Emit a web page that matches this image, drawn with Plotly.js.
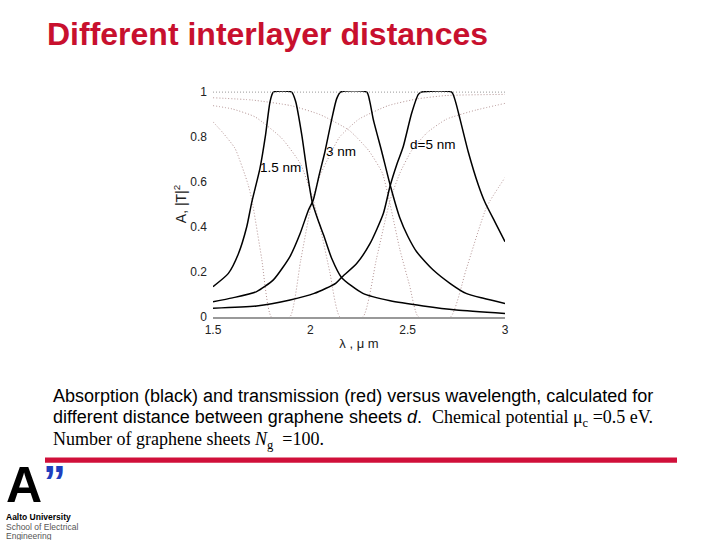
<!DOCTYPE html>
<html>
<head>
<meta charset="utf-8">
<script src="https://cdn.plot.ly/plotly-3.0.1.min.js"></script>
<style>
  html, body { margin: 0; padding: 0; background: #fff; }
  #chart { width: 720px; height: 540px; }
</style>
</head>
<body>
<div id="chart"></div>
<script>
// ---- Absorption (black) ----
const wlAbs15 = [1.5, 1.579, 1.63, 1.673, 1.699, 1.741, 1.77, 1.793, 1.81, 1.904, 1.925, 1.956, 1.981, 2.01, 2.04, 2.07, 2.11, 2.16, 2.27, 2.41, 2.58, 2.75, 3.0];
const abs15   = [0.135, 0.194, 0.28, 0.40, 0.51, 0.66, 0.81, 0.957, 1.0, 1.0, 0.957, 0.81, 0.66, 0.51, 0.43, 0.36, 0.26, 0.176, 0.105, 0.072, 0.049, 0.031, 0.016];

const wlAbs3 = [1.5, 1.6, 1.724, 1.81, 1.896, 1.947, 1.99, 2.015, 2.045, 2.075, 2.11, 2.135, 2.155, 2.29, 2.305, 2.323, 2.367, 2.41, 2.46, 2.5, 2.546, 2.63, 2.717, 2.8, 2.889, 3.0];
const abs3   = [0.068, 0.085, 0.113, 0.165, 0.27, 0.37, 0.475, 0.52, 0.63, 0.735, 0.88, 0.97, 1.0, 1.0, 0.96, 0.88, 0.735, 0.587, 0.44, 0.36, 0.29, 0.21, 0.15, 0.105, 0.083, 0.06];

const wlAbs5 = [1.5, 1.724, 1.896, 2.02, 2.13, 2.16, 2.238, 2.307, 2.375, 2.409, 2.445, 2.477, 2.52, 2.555, 2.57, 2.726, 2.745, 2.769, 2.811, 2.863, 2.897, 2.95, 3.0];
const abs5   = [0.039, 0.049, 0.076, 0.105, 0.15, 0.176, 0.238, 0.327, 0.46, 0.58, 0.68, 0.757, 0.905, 0.99, 1.0, 1.0, 0.96, 0.88, 0.735, 0.587, 0.51, 0.42, 0.335];

// ---- Transmission (red, dotted) ----
const wlT15 = [1.5, 1.55, 1.613, 1.68, 1.70, 1.75, 1.80, 1.895, 1.95, 2.01, 2.05, 2.1, 2.15, 2.25, 2.4, 2.55, 2.7, 3.0];
const tr15  = [0.868, 0.82, 0.75, 0.59, 0.52, 0.26, 0.0, 0.0, 0.25, 0.52, 0.63, 0.72, 0.80, 0.88, 0.94, 0.97, 0.985, 0.99];

const wlT3 = [1.5, 1.6, 1.716, 1.853, 1.95, 2.015, 2.05, 2.1, 2.152, 2.27, 2.34, 2.41, 2.46, 2.52, 2.6, 2.7, 2.85, 3.0];
const tr3  = [0.94, 0.925, 0.89, 0.795, 0.68, 0.52, 0.40, 0.2, 0.0, 0.0, 0.26, 0.52, 0.64, 0.74, 0.82, 0.88, 0.92, 0.95];

const wlT5 = [1.5, 1.7, 1.9, 2.05, 2.2, 2.3, 2.37, 2.41, 2.46, 2.51, 2.555, 2.72, 2.8, 2.906, 3.0];
const tr5  = [0.975, 0.965, 0.94, 0.90, 0.83, 0.74, 0.64, 0.50, 0.30, 0.14, 0.0, 0.0, 0.21, 0.49, 0.62];

// ---- labels ----
const curveLabels = ["1.5 nm", "3 nm", "d=5 nm"];
const labelX = [1.732, 2.07, 2.50];
const labelY = [0.665, 0.735, 0.765];
const yTicks = [0, 0.2, 0.4, 0.6, 0.8, 1];
const yTickText = ["0", "0.2", "0.4", "0.6", "0.8", "1"];
const xTicks = [1.5, 2, 2.5, 3];
const xTickText = ["1.5", "2", "2.5", "3"];
const unityLevel = 1;

const blackLine = {color: '#000', width: 1.5, shape: 'spline', smoothing: 0.6};
const dotLine = {color: 'rgba(160,120,120,0.8)', width: 1, dash: '1px,2px', shape: 'spline', smoothing: 0.5};

const traces = [
  {x: wlT15, y: tr15, mode: 'lines', line: dotLine},
  {x: wlT3, y: tr3, mode: 'lines', line: dotLine},
  {x: wlT5, y: tr5, mode: 'lines', line: dotLine},
  {x: wlAbs15, y: abs15, mode: 'lines', line: blackLine},
  {x: wlAbs3, y: abs3, mode: 'lines', line: blackLine},
  {x: wlAbs5, y: abs5, mode: 'lines', line: blackLine}
];

// paper coordinate helpers from page pixels (plot area 213..505 x 92..317)
const L = 213, R = 505, T = 92, B = 317;
const px = v => (v - L) / (R - L);
const py = v => (B - v) / (B - T);

const ann = [];
curveLabels.forEach((t, i) => ann.push({
  x: labelX[i], y: labelY[i], xref: 'x', yref: 'y', text: t, showarrow: false,
  xanchor: 'left', yanchor: 'middle', font: {family: 'Liberation Sans', size: 13.5, color: '#000'}
}));

ann.push({x: px(45), y: py(35), xref: 'paper', yref: 'paper', xanchor: 'left', yanchor: 'middle',
  showarrow: false, text: '<b>Different interlayer distances</b>',
  font: {family: 'Liberation Sans', size: 32, color: '#c8102e'}});

const capFont = {family: 'Liberation Sans', size: 18, color: '#000'};
ann.push({x: px(51), y: py(396), xref: 'paper', yref: 'paper', xanchor: 'left', yanchor: 'middle',
  showarrow: false, font: capFont,
  text: 'Absorption (black) and transmission (red) versus wavelength, calculated for'});
ann.push({x: px(51), y: py(418), xref: 'paper', yref: 'paper', xanchor: 'left', yanchor: 'middle',
  showarrow: false, font: capFont,
  text: 'different distance between graphene sheets <i>d</i>.  <span style="font-family:\'Liberation Serif\'">Chemical potential μ<sub>c</sub> =0.5 eV.</span>'});
ann.push({x: px(51), y: py(440), xref: 'paper', yref: 'paper', xanchor: 'left', yanchor: 'middle',
  showarrow: false, font: {family: 'Liberation Serif', size: 18, color: '#000'},
  text: 'Number of graphene sheets <i>N</i><sub>g</sub>  =100.'});

// logo
ann.push({x: px(24), y: py(484), xref: 'paper', yref: 'paper', xanchor: 'center', yanchor: 'middle',
  showarrow: false, text: '<b>A</b>', height: 40, font: {family: 'Liberation Sans', size: 50, color: '#000'}});
ann.push({x: px(54), y: py(481), xref: 'paper', yref: 'paper', xanchor: 'center', yanchor: 'middle',
  showarrow: false, text: '<b>”</b>', font: {family: 'Liberation Sans', size: 46, color: '#1f3fbf'}});
ann.push({x: px(4), y: py(516.5), xref: 'paper', yref: 'paper', xanchor: 'left', yanchor: 'middle',
  showarrow: false, text: '<b>Aalto University</b>', font: {family: 'Liberation Sans', size: 8.5, color: '#000'}});
ann.push({x: px(4), y: py(526), xref: 'paper', yref: 'paper', xanchor: 'left', yanchor: 'middle',
  showarrow: false, text: 'School of Electrical', font: {family: 'Liberation Sans', size: 8.5, color: '#555'}});
ann.push({x: px(4), y: py(535), xref: 'paper', yref: 'paper', xanchor: 'left', yanchor: 'middle',
  showarrow: false, text: 'Engineering', font: {family: 'Liberation Sans', size: 8.5, color: '#555'}});

const shapes = [
  {type: 'line', xref: 'paper', yref: 'y', x0: 0, x1: 1, y0: unityLevel, y1: unityLevel,
   line: {color: '#999', width: 1, dash: '1px,2px'}},
  {type: 'rect', xref: 'paper', yref: 'paper', x0: px(45), x1: px(677), y0: py(462), y1: py(457),
   fillcolor: '#d0103a', line: {width: 0}}
];

const layout = {
  width: 720, height: 540,
  margin: {l: L, r: 720 - R, t: T - 1, b: 540 - B},
  paper_bgcolor: '#fff', plot_bgcolor: '#fff',
  showlegend: false,
  font: {family: 'Liberation Sans', size: 12, color: '#222'},
  xaxis: {
    range: [1.5, 3], tickvals: xTicks, ticktext: xTickText, showgrid: false, zeroline: false,
    showline: true, linecolor: '#999', linewidth: 1.5, ticks: '', ticklabelstandoff: 1,
    tickfont: {size: 12, color: '#222'},
    title: {text: 'λ , μ m', font: {size: 13, color: '#222'}, standoff: 3}
  },
  yaxis: {
    range: [0, 1.005], tickvals: yTicks, ticktext: yTickText, showgrid: false, zeroline: false,
    showline: false, ticks: '', ticklabelstandoff: 5,
    tickfont: {size: 12, color: '#222'},
    title: {text: 'A, |T|<sup>2</sup>', font: {size: 14, color: '#222'}, standoff: 0}
  },
  annotations: ann,
  shapes: shapes
};

Plotly.newPlot('chart', traces, layout, {staticPlot: true, displayModeBar: false});
</script>
</body>
</html>
